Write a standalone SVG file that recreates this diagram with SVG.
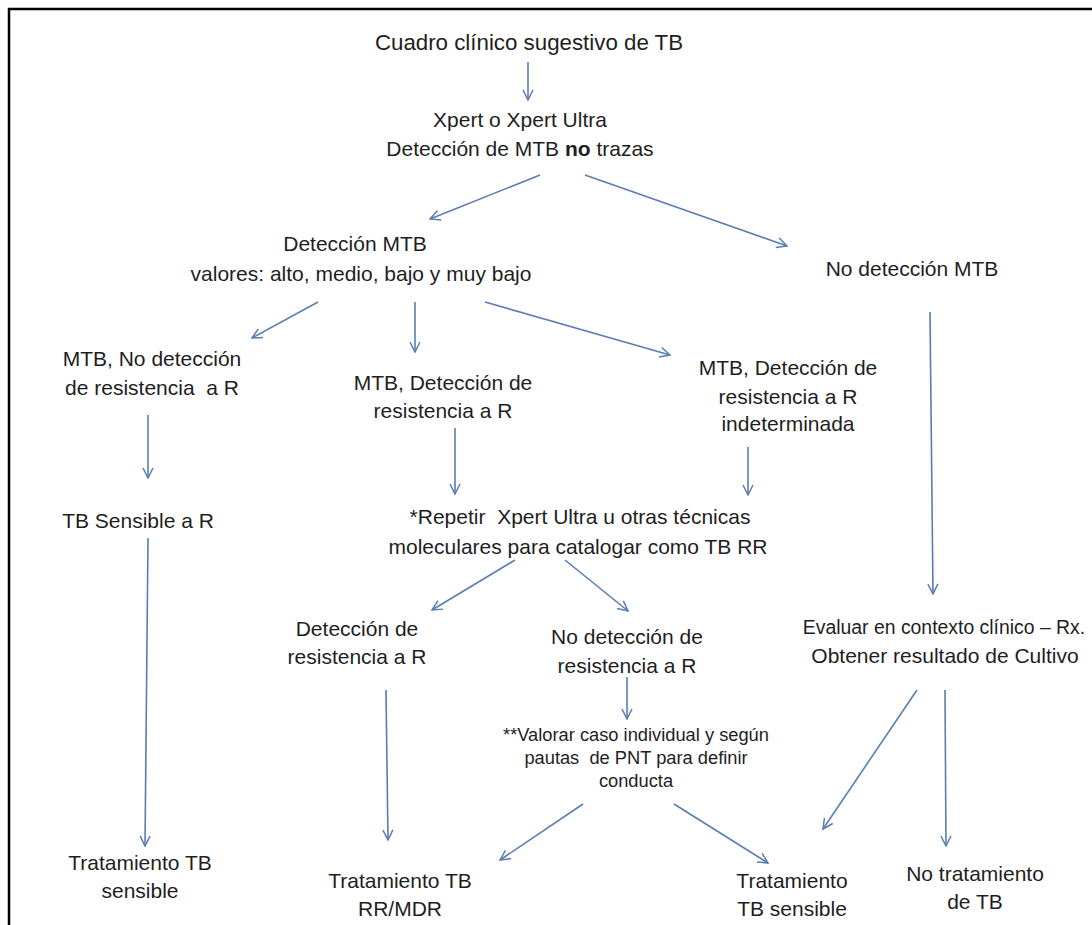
<svg xmlns="http://www.w3.org/2000/svg" width="1092" height="925" viewBox="0 0 1092 925">
<defs>
<marker id="ah" viewBox="0 0 12 12" refX="11" refY="6" markerWidth="12" markerHeight="12" markerUnits="userSpaceOnUse" orient="auto">
<polyline points="1,1 11,6 1,11" fill="none" stroke="#5a7db3" stroke-width="1.5"/>
</marker>
<style>
text{font-family:"Liberation Sans",Arial,sans-serif;font-size:21px;fill:#1e1e1e;text-anchor:middle;white-space:pre}
.s{font-size:18.3px}
.t{font-size:22.3px}
.e{font-size:19.4px}
.b{font-weight:bold}
#connectors line{stroke:#5a7db3;stroke-width:1.6;fill:none;marker-end:url(#ah)}
</style>
</defs>
<rect width="1092" height="925" fill="#fff"/>
<path d="M9,925 V9 H1092" fill="none" stroke="#000" stroke-width="2.5"/>
<g id="connectors">
<line x1="528" y1="62" x2="528" y2="100"/>
<line x1="540" y1="175" x2="430" y2="219"/>
<line x1="585" y1="175" x2="787" y2="246"/>
<line x1="318" y1="302" x2="252" y2="338"/>
<line x1="415" y1="302" x2="415" y2="352"/>
<line x1="485" y1="302" x2="670" y2="355"/>
<line x1="930" y1="312" x2="933" y2="594"/>
<line x1="148" y1="415" x2="148" y2="478"/>
<line x1="455" y1="428" x2="455" y2="494"/>
<line x1="748" y1="447" x2="748" y2="495"/>
<line x1="148" y1="538" x2="145" y2="846"/>
<line x1="515" y1="560" x2="432" y2="610"/>
<line x1="565" y1="560" x2="628" y2="611"/>
<line x1="386" y1="690" x2="388" y2="840"/>
<line x1="627" y1="677" x2="627" y2="719"/>
<line x1="917" y1="690" x2="823" y2="829"/>
<line x1="945" y1="690" x2="946" y2="846"/>
<line x1="583" y1="804" x2="500" y2="860"/>
<line x1="674" y1="804" x2="768" y2="863"/>
</g>
<g id="n1"><text class="t" x="529" y="50">Cuadro clínico sugestivo de TB</text></g>
<g id="n2"><text x="520" y="127">Xpert o Xpert Ultra</text><text x="520" y="156">Detección de MTB <tspan class="b">no</tspan> trazas</text></g>
<g id="n3"><text x="355" y="251">Detección MTB</text><text x="361" y="281">valores: alto, medio, bajo y muy bajo</text></g>
<g id="n4"><text x="912" y="276">No detección MTB</text></g>
<g id="n5"><text x="152" y="366">MTB, No detección</text><text x="152" y="395">de resistencia  a R</text></g>
<g id="n6"><text x="443" y="390">MTB, Detección de</text><text x="443" y="418">resistencia a R</text></g>
<g id="n7"><text x="788" y="375">MTB, Detección de</text><text x="788" y="404">resistencia a R</text><text x="788" y="431">indeterminada</text></g>
<g id="n8"><text x="138" y="528">TB Sensible a R</text></g>
<g id="n9"><text x="580" y="524">*Repetir  Xpert Ultra u otras técnicas</text><text x="578" y="554">moleculares para catalogar como TB RR</text></g>
<g id="n10"><text x="357" y="636">Detección de</text><text x="357" y="664">resistencia a R</text></g>
<g id="n11"><text x="627" y="644">No detección de</text><text x="627" y="673">resistencia a R</text></g>
<g id="n12"><text class="e" x="944" y="634">Evaluar en contexto clínico – Rx.</text><text x="945" y="663">Obtener resultado de Cultivo</text></g>
<g id="n13"><text class="s" x="636" y="741">**Valorar caso individual y según</text><text class="s" x="636" y="764">pautas  de PNT para definir</text><text class="s" x="636" y="787">conducta</text></g>
<g id="n14"><text x="140" y="870">Tratamiento TB</text><text x="140" y="898">sensible</text></g>
<g id="n15"><text x="400" y="888">Tratamiento TB</text><text x="400" y="916">RR/MDR</text></g>
<g id="n16"><text x="792" y="888">Tratamiento</text><text x="792" y="916">TB sensible</text></g>
<g id="n17"><text x="975" y="881">No tratamiento</text><text x="975" y="909">de TB</text></g>
</svg>
